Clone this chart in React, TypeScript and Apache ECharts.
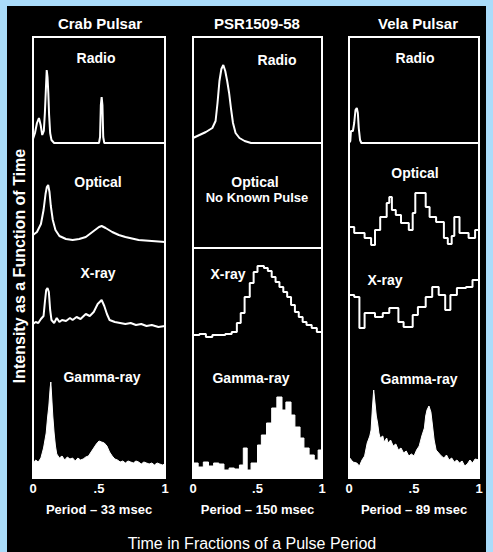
import React, { useEffect, useRef } from "react";
import * as echarts from "echarts";

// ---------- data (intensity above each row's baseline, arbitrary units) ----------
const pulsars = ["Crab Pulsar", "PSR1509-58", "Vela Pulsar"];
const periods = ["Period – 33 msec", "Period – 150 msec", "Period – 89 msec"];
const bands = ["Radio", "Optical", "X-ray", "Gamma-ray"];
const tickLabels = ["0", ".5", "1"];

const crabRadio = [[0,4],[0.015,10],[0.03,20],[0.045,25],[0.058,18],[0.07,8],[0.082,12],[0.09,30],[0.098,55],[0.104,73],[0.11,66],[0.116,50],[0.122,28],[0.13,10],[0.14,3],[0.16,0],[0.5,0],[0.508,6],[0.514,38],[0.52,46],[0.526,38],[0.532,6],[0.54,0],[1,0]];
const crabOptical = [[0,15],[0.03,18],[0.06,26],[0.08,40],[0.095,56],[0.105,63],[0.115,65],[0.125,58],[0.135,44],[0.15,30],[0.17,20],[0.2,14],[0.25,11],[0.3,10],[0.35,11],[0.4,13],[0.45,18],[0.5,23],[0.52,24],[0.55,22],[0.6,18],[0.65,15],[0.7,13],[0.8,10],[0.9,9],[1,8]];
const crabXray = [[0,16],[0.02,18],[0.04,17],[0.06,21],[0.08,24],[0.09,38],[0.1,50],[0.11,52],[0.12,48],[0.13,30],[0.14,20],[0.16,17],[0.18,22],[0.2,18],[0.22,20],[0.25,19],[0.28,22],[0.3,20],[0.33,23],[0.36,21],[0.4,26],[0.43,24],[0.46,28],[0.49,36],[0.52,40],[0.54,34],[0.56,26],[0.58,20],[0.62,18],[0.66,17],[0.7,16],[0.74,17],[0.78,15],[0.82,16],[0.86,14],[0.9,15],[0.95,13],[1,14]];
const crabGamma = [[0,14],[0.02,18],[0.04,16],[0.06,20],[0.08,30],[0.1,45],[0.11,60],[0.12,72],[0.13,90],[0.135,96],[0.14,85],[0.15,62],[0.16,45],[0.17,32],[0.18,24],[0.2,20],[0.22,22],[0.24,18],[0.26,21],[0.28,19],[0.3,20],[0.32,17],[0.34,20],[0.36,18],[0.38,19],[0.4,21],[0.42,22],[0.44,26],[0.46,30],[0.48,34],[0.5,37],[0.52,36],[0.54,35],[0.56,32],[0.58,26],[0.6,22],[0.62,19],[0.64,18],[0.66,16],[0.68,17],[0.7,15],[0.72,17],[0.74,16],[0.76,15],[0.78,17],[0.8,16],[0.82,14],[0.84,16],[0.86,15],[0.88,14],[0.9,15],[0.92,13],[0.94,15],[0.96,14],[0.98,13],[1,14]];

const psrRadio = [[0,5],[0.05,8],[0.1,11],[0.15,15],[0.175,22],[0.19,40],[0.205,62],[0.22,74],[0.235,78],[0.25,72],[0.265,62],[0.28,50],[0.295,34],[0.31,20],[0.33,10],[0.36,5],[0.4,2],[0.45,0],[1,0]];
const psrOptical = [[0,2],[1,2]];
const psrXray = [[0,5],[0.05,6],[0.1,3],[0.15,5],[0.2,5],[0.25,6],[0.3,8],[0.34,17],[0.37,27],[0.4,43],[0.44,57],[0.47,68],[0.5,74],[0.55,72],[0.58,69],[0.61,63],[0.64,58],[0.67,53],[0.7,48],[0.73,43],[0.76,35],[0.79,28],[0.82,23],[0.85,18],[0.88,15],[0.92,12],[0.96,8],[1,7]];
const psrGamma = [[0,15],[0.04,11],[0.08,16],[0.12,12],[0.16,15],[0.2,14],[0.24,8],[0.28,10],[0.32,9],[0.36,13],[0.39,30],[0.42,8],[0.45,15],[0.5,33],[0.53,43],[0.57,55],[0.61,70],[0.65,81],[0.69,68],[0.72,76],[0.76,63],[0.79,51],[0.83,40],[0.86,30],[0.9,23],[0.94,18],[0.97,28],[1,28]];

const velaRadio = [[0,0],[0.01,2],[0.015,12],[0.03,12],[0.04,20],[0.05,33],[0.06,35],[0.068,30],[0.075,15],[0.085,3],[0.095,0],[1,0]];
const velaOptical = [[0,23],[0.04,17],[0.12,12],[0.17,5],[0.2,20],[0.24,33],[0.29,47],[0.31,53],[0.33,40],[0.36,35],[0.4,27],[0.46,20],[0.49,37],[0.51,57],[0.59,43],[0.62,33],[0.67,28],[0.73,12],[0.76,6],[0.79,14],[0.81,33],[0.85,17],[0.92,12],[0.97,20],[1,20]];
const velaXray = [[0,45],[0.04,43],[0.08,12],[0.12,27],[0.2,23],[0.26,27],[0.31,32],[0.38,18],[0.42,13],[0.49,25],[0.53,33],[0.59,43],[0.64,53],[0.69,45],[0.74,30],[0.78,45],[0.83,52],[0.9,53],[0.95,60],[1,60]];
const velaGamma = [[0,21],[0.03,16],[0.06,15],[0.08,12],[0.1,18],[0.12,22],[0.14,35],[0.16,42],[0.17,48],[0.18,70],[0.19,88],[0.2,75],[0.21,62],[0.22,55],[0.23,45],[0.24,40],[0.26,42],[0.27,36],[0.29,40],[0.3,35],[0.32,38],[0.34,32],[0.36,34],[0.38,28],[0.4,30],[0.42,25],[0.44,27],[0.46,22],[0.48,24],[0.5,22],[0.52,28],[0.54,32],[0.56,42],[0.58,50],[0.59,62],[0.6,68],[0.615,72],[0.63,66],[0.64,55],[0.655,38],[0.67,28],[0.69,25],[0.71,22],[0.73,20],[0.75,23],[0.77,18],[0.79,20],[0.81,16],[0.83,18],[0.85,15],[0.87,17],[0.89,12],[0.91,14],[0.93,18],[0.95,15],[0.97,19],[1,18]];

const profiles = [
  [crabRadio, crabOptical, crabXray, crabGamma],
  [psrRadio, psrOptical, psrXray, psrGamma],
  [velaRadio, velaOptical, velaXray, velaGamma],
];
// step mode per [column][row]
const stepModes: (false | string)[][] = [
  [false, false, false, false],
  [false, false, "end", "end"],
  [false, "end", "end", false],
];

// ---------- layout ----------
const FONT = '"Liberation Sans", Arial, sans-serif';
const colLeft = [33, 193, 349];
const colWidth = [132, 129, 130];
const rowTop = [37, 143, 250, 340];
const rowBottom = [143, 250, 340, 478];

const labelPos = [
  [[96, 58], [98, 182], [98, 273], [102, 377]],
  [[277, 60], [255, 182], [228, 274], [251, 378]],
  [[415, 58], [415, 173], [385, 280], [419, 379]],
];
const titleX = [100, 257, 418];

export default function App() {
  const ref = useRef<HTMLDivElement>(null);
  useEffect(() => {
    if (!ref.current) return;
    const chart = echarts.init(ref.current, undefined, { renderer: "svg" });
    const grid: any[] = [];
    const xAxis: any[] = [];
    const yAxis: any[] = [];
    const series: any[] = [];
    const graphic: any[] = [
      { type: "rect", z: -100, shape: { x: 7, y: 6, width: 479, height: 546 }, style: { fill: "#000" } },
    ];

    for (let c = 0; c < 3; c++) {
      // frame
      const fi = grid.length;
      grid.push({
        left: colLeft[c], top: rowTop[0], width: colWidth[c], height: rowBottom[3] - rowTop[0],
        show: true, borderColor: "#fff", borderWidth: 2, backgroundColor: "#000",
      });
      xAxis.push({ gridIndex: fi, type: "value", min: 0, max: 1, show: false });
      yAxis.push({ gridIndex: fi, type: "value", min: 0, max: 1, show: false });

      for (let r = 0; r < 4; r++) {
        const gi = grid.length;
        const h = rowBottom[r] - rowTop[r];
        grid.push({ left: colLeft[c], top: rowTop[r], width: colWidth[c], height: h });
        const isBottom = r === 3;
        xAxis.push({
          gridIndex: gi, type: "value", min: 0, max: 1, interval: 0.5, show: isBottom,
          axisLine: { show: false }, axisTick: { show: false }, splitLine: { show: false },
          axisLabel: {
            show: isBottom, color: "#fff", fontWeight: "bold", fontSize: 13, fontFamily: FONT, margin: 4,
            showMinLabel: true, showMaxLabel: true,
            formatter: (v: number) => tickLabels[Math.round(v * 2)],
          },
          name: isBottom ? periods[c] : "",
          nameLocation: "middle", nameGap: 25,
          nameTextStyle: { color: "#fff", fontWeight: "bold", fontSize: 13, fontFamily: FONT },
        });
        yAxis.push({ gridIndex: gi, type: "value", min: 0, max: h, show: false, splitLine: { show: false } });
        const s: any = {
          type: "line", xAxisIndex: gi, yAxisIndex: gi, data: profiles[c][r],
          showSymbol: false, symbol: "none", clip: false, smooth: false,
          lineStyle: { color: "#fff", width: 2 },
          step: stepModes[c][r],
          z: 3,
        };
        if (isBottom) {
          s.areaStyle = { color: "#fff", opacity: 1 };
          s.lineStyle = { color: "#fff", width: 1 };
        }
        series.push(s);

        // band label
        graphic.push({
          type: "text", x: labelPos[c][r][0], y: labelPos[c][r][1], z: 10,
          style: { text: bands[r], fill: "#fff", font: `bold 14px ${FONT}`, align: "center", verticalAlign: "middle" },
        });
      }
      graphic.push({
        type: "text", x: titleX[c], y: 23, z: 10,
        style: { text: pulsars[c], fill: "#fff", font: `bold 15px ${FONT}`, align: "center", verticalAlign: "middle" },
      });
    }
    graphic.push({
      type: "text", x: 257, y: 197, z: 10,
      style: { text: "No Known Pulse", fill: "#fff", font: `bold 13px ${FONT}`, align: "center", verticalAlign: "middle" },
    });
    graphic.push({
      type: "text", x: 19, y: 266, rotation: Math.PI / 2, z: 10,
      style: { text: "Intensity as a Function of Time", fill: "#fff", font: `bold 16px ${FONT}`, align: "center", verticalAlign: "middle" },
    });
    graphic.push({
      type: "text", x: 252, y: 543, z: 10,
      style: { text: "Time in Fractions of a Pulse Period", fill: "#fff", font: `16px ${FONT}`, align: "center", verticalAlign: "middle" },
    });

    chart.setOption({
      animation: false,
      backgroundColor: "#aadcfa",
      grid, xAxis, yAxis, series, graphic,
    });
    return () => chart.dispose();
  }, []);
  return <div ref={ref} style={{ position: "fixed", left: 0, top: 0, width: 493, height: 552 }} />;
}
